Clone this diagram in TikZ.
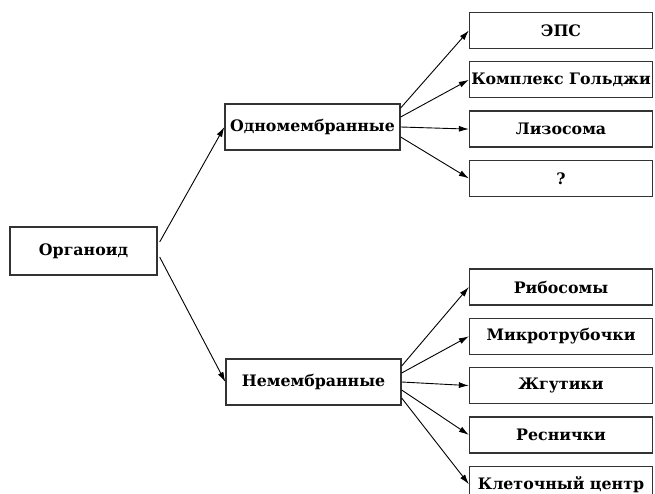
\documentclass[tikz,border=0pt]{standalone}
\usepackage{fontspec}
\setmainfont{DejaVu Serif}
\usepackage{tikz}
\usetikzlibrary{arrows.meta, positioning}

\begin{document}
\begin{tikzpicture}[x=1pt, y=-1pt,
    font=\bfseries\fontsize{15.8}{18}\selectfont,
    box/.style={draw=black!80, line width=1.3pt, minimum width=175pt, minimum height=46pt, inner sep=0pt},
    item/.style={draw=black!80, line width=1.3pt, minimum width=183pt, minimum height=36pt, inner sep=0pt},
    link/.style={-{Latex[length=10pt, width=6pt]}, line width=0.9pt}]
    \useasboundingbox (0,0) rectangle (655,494);

    % левая часть
    \node[box, minimum width=147pt, minimum height=48pt] (org) at (83.5,251) {Органоид};
    \node[box] (odn) at (312.5,127) {Одномембранные};
    \node[box] (nem) at (313.5,382) {Немембранные};

    % одномембранные
    \node[item] (eps) at (561,30.5) {ЭПС};
    \node[item, below=12pt of eps] (golgi) {Комплекс Гольджи};
    \node[item, below=12pt of golgi] (lizo) {Лизосома};
    \node[item, below=12pt of lizo] (vopr) {?};

    % немембранные
    \node[item] (ribo) at (561,287) {Рибосомы};
    \node[item, below=12pt of ribo] (mikro) {Микротрубочки};
    \node[item, below=12pt of mikro] (zhgut) {Жгутики};
    \node[item, below=12pt of zhgut] (resn) {Реснички};
    \node[item, below=12pt of resn] (klet) {Клеточный центр};

    \draw[link] ([xshift=2pt, yshift=9pt]org.east) -- (odn.west);
    \draw[link] ([xshift=2pt, yshift=-6pt]org.east) -- (nem.west);

    \draw[link] ([yshift=19pt]odn.east) -- (eps.west);
    \draw[link] ([yshift=10pt]odn.east) -- (golgi.west);
    \draw[link] (odn.east) -- (lizo.west);
    \draw[link] ([yshift=-10pt]odn.east) -- (vopr.west);

    \draw[link] ([yshift=16pt]nem.east) -- (ribo.west);
    \draw[link] ([yshift=9pt]nem.east) -- (mikro.west);
    \draw[link] (nem.east) -- (zhgut.west);
    \draw[link] ([yshift=-8pt]nem.east) -- (resn.west);
    \draw[link] ([yshift=-16pt]nem.east) -- (klet.west);
\end{tikzpicture}
\end{document}
